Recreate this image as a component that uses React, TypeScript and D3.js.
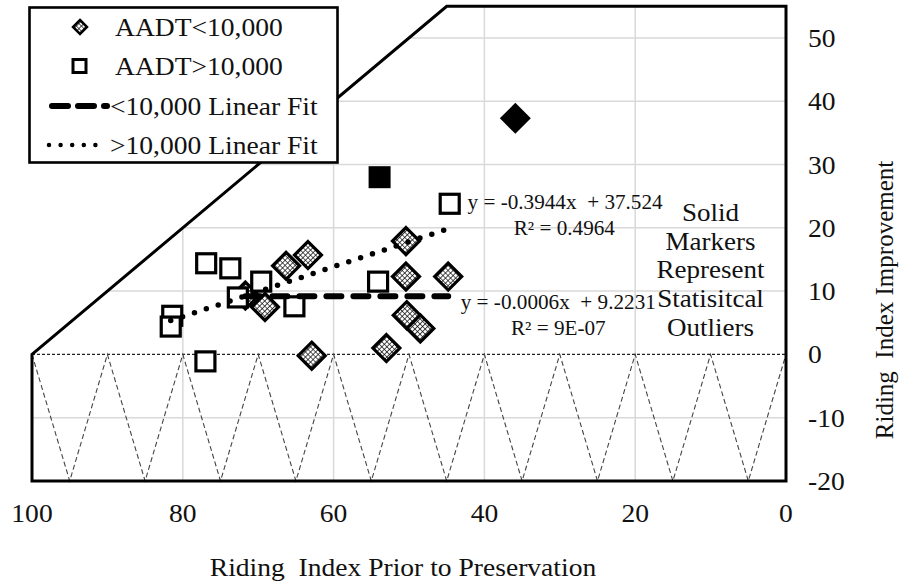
import React from "react";
import * as d3 from "d3";

// Sections with AADT below 10,000 (riding index before, improvement)
const lowPrior = [66.3, 63.4, 50.4, 50.4, 44.8, 69.1, 50.3, 48.5, 53.0, 62.9, 71.7];
const lowGain = [14.0, 15.7, 17.9, 12.3, 12.3, 7.5, 6.2, 4.1, 1.0, -0.2, 9.3];

// Sections with AADT above 10,000
const highPrior = [76.9, 73.7, 72.7, 69.6, 65.2, 54.1, 81.4, 81.6, 77.0, 44.6];
const highGain = [14.4, 13.6, 9.0, 11.5, 7.6, 11.5, 6.1, 4.4, -1.1, 23.8];

// Statistical outliers (solid markers)
const lowOutlierPrior = [35.9];
const lowOutlierGain = [37.3];
const highOutlierPrior = [53.9];
const highOutlierGain = [28.0];

// Linear fits
const lowSlope = -0.0006;
const lowIntercept = 9.2231;
const lowR2 = "9E-07";
const highSlope = -0.3944;
const highIntercept = 37.524;
const highR2 = "0.4964";

const xTicks = [100, 80, 60, 40, 20, 0];
const yTicks = [50, 40, 30, 20, 10, 0, -10, -20];
const xGrid = [80, 60, 40, 20];
const yGrid = [50, 40, 30, 20, 10, -10];

const legendLabels = ["AADT<10,000", "AADT>10,000", "<10,000 Linear Fit", ">10,000 Linear Fit"];
const noteLines = ["Solid", "Markers", "Represent", "Statisitcal", "Outliers"];

const FONT = "'Liberation Serif', 'Times New Roman', serif";

const xMin = 0, xMax = 100, yMin = -20, yMax = 55;

export default function App() {
  const x = d3.scaleLinear().domain([xMax, xMin]).range([32, 786]);
  const y = d3.scaleLinear().domain([yMin, yMax]).range([481, 6.3]);

  // Feasible region: improvement can not exceed 100 - prior index
  const region: [number, number][] = [
    [xMax, 0],
    [xMax - yMax, yMax],
    [xMin, yMax],
    [xMin, yMin],
    [xMax, yMin],
  ];
  const line = d3.line<[number, number]>().x((d) => x(d[0])).y((d) => y(d[1]));
  const regionPath = line(region) + "Z";

  // zigzag fill below zero
  const zig: [number, number][] = d3.range(xMax, xMin - 1, -5).map((v, i) => [v, i % 2 === 0 ? 0 : yMin]);

  const fit = (slope: number, intercept: number, xs: number[]): [number, number][] => {
    const lo = d3.min(xs)!, hi = d3.max(xs)!;
    return [
      [hi, slope * hi + intercept],
      [lo, slope * lo + intercept],
    ];
  };

  const diamond = (cx: number, cy: number, r: number) =>
    `M${cx},${cy - r}L${cx + r},${cy}L${cx},${cy + r}L${cx - r},${cy}Z`;

  const lowPts = lowPrior.map((v, i) => [v, lowGain[i]]);
  const highPts = highPrior.map((v, i) => [v, highGain[i]]);

  const dashStyle = { strokeWidth: 6, strokeDasharray: "15 12", strokeLinecap: "round" as const };
  const dotStyle = { strokeWidth: 5.5, strokeDasharray: "0 12.5", strokeLinecap: "round" as const };

  const stretch = "scale(1.06,1)";

  const T = (props: any) => {
    const { x: tx, y: ty, children, ...rest } = props;
    return (
      <g transform={`translate(${tx},${ty})`}>
        <text transform={stretch} fontFamily={FONT} fill="#111" style={{ whiteSpace: "pre" }} {...rest}>
          {children}
        </text>
      </g>
    );
  };

  const legendY = [27, 66, 106, 145];

  return (
    <svg width={904} height={584} style={{ position: "absolute", left: 0, top: 0, background: "#fff" }}>
      <defs>
        <clipPath id="region-clip">
          <path d={regionPath} />
        </clipPath>
        <pattern id="lattice" width={3.6} height={3.6} patternUnits="userSpaceOnUse" patternTransform="rotate(45)">
          <rect width={3.6} height={3.6} fill="#fff" />
          <path d="M0,0H3.6M0,0V3.6" stroke="#111" strokeWidth={1.5} />
        </pattern>
      </defs>
      <rect width={904} height={584} fill="#fff" />

      {/* gridlines inside the feasible region */}
      <g clipPath="url(#region-clip)" stroke="#d9d9d9" strokeWidth={1.5}>
        {yGrid.map((v) => (
          <line key={"h" + v} x1={x(xMax)} x2={x(xMin)} y1={y(v)} y2={y(v)} />
        ))}
        {xGrid.map((v) => (
          <line key={"v" + v} x1={x(v)} x2={x(v)} y1={y(yMax)} y2={y(yMin)} />
        ))}
      </g>

      {/* zero line and zigzag */}
      <line x1={x(xMax)} x2={x(xMin)} y1={y(0)} y2={y(0)} stroke="#222" strokeWidth={1.2} strokeDasharray="3 2" />
      <path d={line(zig)!} fill="none" stroke="#444" strokeWidth={1.1} strokeDasharray="5 3" />

      {/* region outline */}
      <path d={regionPath} fill="none" stroke="#000" strokeWidth={3} strokeLinejoin="miter" />

      {/* markers */}
      <g>
        {lowPts.map((d, i) => (
          <path key={"l" + i} d={diamond(x(d[0]), y(d[1]), 13.5)} fill="url(#lattice)" stroke="#000" strokeWidth={3.2} />
        ))}
        {highPts.map((d, i) => (
          <rect key={"s" + i} x={x(d[0]) - 9.5} y={y(d[1]) - 9.5} width={19} height={19} fill="#fff" stroke="#000" strokeWidth={3.2} />
        ))}
        {lowOutlierPrior.map((v, i) => (
          <path key={"lo" + i} d={diamond(x(v), y(lowOutlierGain[i]), 15.5)} fill="#000" />
        ))}
        {highOutlierPrior.map((v, i) => (
          <rect key={"ho" + i} x={x(v) - 11} y={y(highOutlierGain[i]) - 11} width={22} height={22} fill="#000" />
        ))}
      </g>

      {/* trend lines */}
      <path d={line(fit(lowSlope, lowIntercept, lowPrior))!} fill="none" stroke="#000" {...dashStyle} />
      <path d={line(fit(highSlope, highIntercept, highPrior))!} fill="none" stroke="#000" {...dotStyle} />

      {/* fit equations */}
      <T x={x(29.3)} y={y(23.0)} fontSize={20} textAnchor="middle">
        {`y = ${highSlope}x  + ${highIntercept}`}
      </T>
      <T x={x(29.4)} y={y(18.9)} fontSize={20} textAnchor="middle">
        {`R² = ${highR2}`}
      </T>
      <T x={x(30.2)} y={y(7.2)} fontSize={20} textAnchor="middle">
        {`y = ${lowSlope}x  + ${lowIntercept}`}
      </T>
      <T x={x(30.2)} y={y(3.0)} fontSize={20} textAnchor="middle">
        {`R² = ${lowR2}`}
      </T>

      {/* note */}
      {noteLines.map((s, i) => (
        <T key={s} x={x(10.0)} y={221 + i * 28.7} fontSize={25.5} textAnchor="middle">
          {s}
        </T>
      ))}

      {/* axes labels */}
      {xTicks.map((v) => (
        <T key={"xt" + v} x={x(v)} y={522} fontSize={26} textAnchor="middle">
          {v}
        </T>
      ))}
      {yTicks.map((v) => (
        <T key={"yt" + v} x={808} y={y(v) + 9} fontSize={26} textAnchor="start">
          {v}
        </T>
      ))}
      <T x={403} y={576} fontSize={26} textAnchor="middle">
        {"Riding  Index Prior to Preservation"}
      </T>
      <g transform={`translate(893,${300}) rotate(-90)`}>
        <text fontFamily={FONT} fontSize={25} textAnchor="middle" fill="#111" style={{ whiteSpace: "pre" }}>
          {"Riding  Index Improvement"}
        </text>
      </g>

      {/* legend */}
      <g>
        <rect x={29.5} y={7.5} width={308} height={155} fill="#fff" stroke="#000" strokeWidth={2.6} />
        <path d={diamond(80, legendY[0], 7)} fill="url(#lattice)" stroke="#000" strokeWidth={2.5} />
        <rect x={73} y={legendY[1] - 6.5} width={13} height={13} fill="#fff" stroke="#000" strokeWidth={3} />
        <line x1={52} x2={107} y1={legendY[2]} y2={legendY[2]} stroke="#000" strokeWidth={6} strokeDasharray="16 10" strokeLinecap="round" />
        <line x1={49} x2={107} y1={legendY[3]} y2={legendY[3]} stroke="#000" {...{ strokeWidth: 4.5, strokeDasharray: "0 11.6", strokeLinecap: "round" }} />
        {legendLabels.map((s, i) => (
          <T key={s} x={i < 2 ? 115 : 110} y={legendY[i] + 9} fontSize={26} textAnchor="start">
            {s}
          </T>
        ))}
      </g>
    </svg>
  );
}
